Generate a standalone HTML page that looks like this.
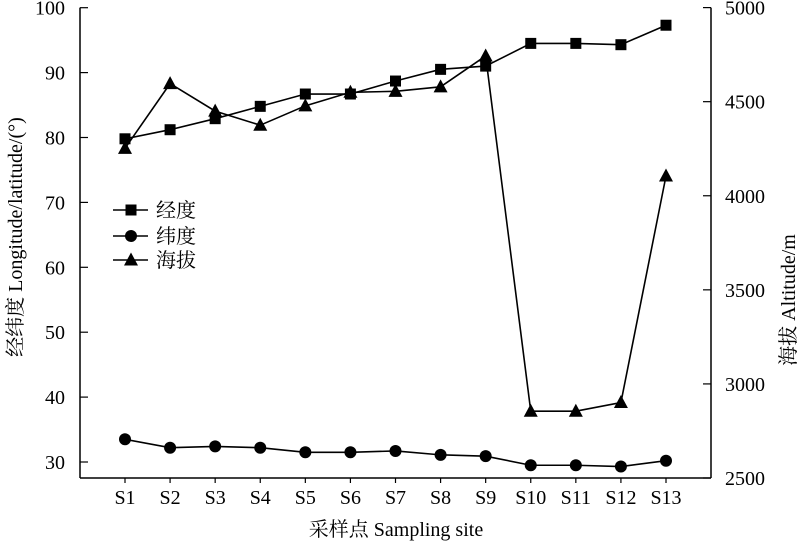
<!DOCTYPE html>
<html><head><meta charset="utf-8"><style>
html,body{margin:0;padding:0;background:#fff;}
svg{display:block;}
text{font-family:"Liberation Serif","Noto Serif CJK SC",serif;fill:#000;}
</style></head><body>
<svg width="800" height="542" viewBox="0 0 800 542" xmlns="http://www.w3.org/2000/svg">
<g id="axes"></g>
<g id="series"></g>
<g id="legend"></g>
</svg>
<script>
const categories=["S1","S2","S3","S4","S5","S6","S7","S8","S9","S10","S11","S12","S13"];
const longitude=[79.8,81.2,82.9,84.8,86.7,86.7,88.7,90.5,91.0,94.5,94.5,94.3,97.3];
const latitude=[33.5,32.2,32.4,32.2,31.5,31.5,31.7,31.1,30.9,29.5,29.5,29.3,30.2];
const altitude=[4252,4596,4450,4375,4478,4550,4555,4579,4743,2855,2855,2901,4105];
const leftTicks=[30,40,50,60,70,80,90,100];
const rightTicks=[2500,3000,3500,4000,4500,5000];

const NS="http://www.w3.org/2000/svg";
const L=80,R=711,T=7.6,B=478;
function xS(i){return 125+i*(666-125)/(categories.length-1);}
function yL(v){return 462-(v-30)*64.9/10;}
function yR(v){return B-(v-2500)*(B-T)/2500;}
function mk(tag,attrs,parent){const e=document.createElementNS(NS,tag);for(const k in attrs)e.setAttribute(k,attrs[k]);parent.appendChild(e);return e;}
const axes=document.getElementById('axes'),ser=document.getElementById('series'),leg=document.getElementById('legend');

let e;
e=mk('line',{x1:L,y1:T,x2:L,y2:B,stroke:'#000','stroke-width':1.5},axes);


e=mk('line',{x1:R,y1:T,x2:R,y2:B,stroke:'#000','stroke-width':1.5},axes);


e=mk('line',{x1:L,y1:B,x2:R,y2:B,stroke:'#000','stroke-width':1.5},axes);



leftTicks.forEach(v=>{
  const y=yL(v);
  mk('line',{x1:L,y1:y,x2:L+8,y2:y,stroke:'#000','stroke-width':1.2},axes);
  const t=mk('text',{x:L-15,y:y+7,'text-anchor':'end','font-size':20},axes);
  t.textContent=v;
  
  
});
rightTicks.forEach(v=>{
  const y=yR(v);
  mk('line',{x1:R,y1:y,x2:R-8,y2:y,stroke:'#000','stroke-width':1.2},axes);
  const t=mk('text',{x:R+14,y:y+7,'font-size':20},axes);
  t.textContent=v;
  
  
});
categories.forEach((c,i)=>{
  const x=xS(i);
  mk('line',{x1:x,y1:B,x2:x,y2:B+5,stroke:'#000','stroke-width':1.2},axes);
  const t=mk('text',{x:x,y:504,'text-anchor':'middle','font-size':20},axes);
  t.textContent=c;
  
  
});
e=mk('text',{x:396,y:536,'text-anchor':'middle','font-size':20},axes);
e.textContent='采样点 Sampling site';


e=mk('text',{x:0,y:0,'text-anchor':'middle','font-size':20,transform:'translate(22,237) rotate(-90)'},axes);
e.textContent='经纬度 Longitude/latitude/(°)';


e=mk('text',{x:0,y:0,'text-anchor':'middle','font-size':20,transform:'translate(795,300) rotate(-90)'},axes);
e.textContent='海拔 Altitude/m';



function marker(type,x,y,parent){
  if(type==='square')return mk('rect',{x:x-5.5,y:y-5.5,width:11,height:11,fill:'#000'},parent);
  if(type==='circle')return mk('circle',{cx:x,cy:y,r:6,fill:'#000'},parent);
  return mk('polygon',{points:`${x},${y-7.5} ${x-7},${y+5.5} ${x+7},${y+5.5}`,fill:'#000'},parent);
}
function series(vals,yf,type,name){
  const g=mk('g',{},ser);
  
  
  const pts=vals.map((v,i)=>xS(i)+','+yf(v)).join(' ');
  const pl=mk('polyline',{points:pts,fill:'none',stroke:'#000','stroke-width':1.6},g);
  
  
  vals.forEach((v,i)=>{
    const m=marker(type,xS(i),yf(v),g);
    
    
  });
}
series(longitude,yL,'square','longitude');
series(latitude,yL,'circle','latitude');
series(altitude,yR,'triangle','altitude');

[['经度','square',210],['纬度','circle',236],['海拔','triangle',260]].forEach(([lab,type,y])=>{
  const g=mk('g',{},leg);
  
  
  mk('line',{x1:113,y1:y,x2:148,y2:y,stroke:'#000','stroke-width':1.6},g);
  marker(type,131,y,g);
  const t=mk('text',{x:156,y:y+7,'font-size':20},g);
  t.textContent=lab;
});
</script>
</body></html>
